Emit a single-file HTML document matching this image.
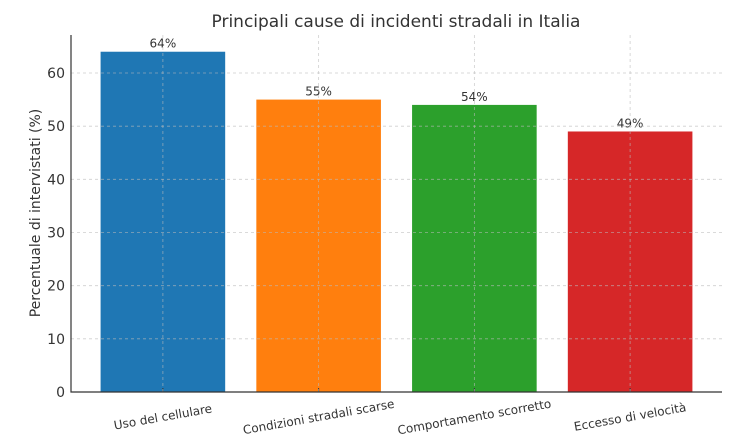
<!DOCTYPE html>
<html><head><meta charset="utf-8"><style>
body{margin:0;background:#fff;}
svg{display:block;font-family:"DejaVu Sans","Liberation Sans",sans-serif;}
</style></head><body>
<svg id="chart" width="746" height="448"></svg>
<script>
const categories=["Uso del cellulare","Condizioni stradali scarse","Comportamento scorretto","Eccesso di velocità"];
const values=[64,55,54,49];
const valueLabels=["64%","55%","54%","49%"];
const colors=["#1f77b4","#ff7f0e","#2ca02c","#d62728"];
const yTicks=[0,10,20,30,40,50,60];
const NS="http://www.w3.org/2000/svg";
const svg=document.getElementById('chart');
const L=71,R=722,B=392,pxPerUnit=(392-73)/60;
const xMin=-0.59,xMax=3.59;
const x=v=>L+(v-xMin)/(xMax-xMin)*(R-L);
const y=v=>B-v*pxPerUnit;
const bw=0.8*(R-L)/(xMax-xMin);
function mk(t,a){const e=document.createElementNS(NS,t);for(const k in a)e.setAttribute(k,a[k]);svg.appendChild(e);return e;}
// title
let t=mk('text',{x:396,y:27,'text-anchor':'middle','font-size':17,fill:'#333'});t.textContent="Principali cause di incidenti stradali in Italia";

t=mk('text',{x:40,y:213,'text-anchor':'middle','font-size':14,fill:'#333',transform:'rotate(-90 40 213)'});t.textContent="Percentuale di intervistati (%)";

// bars
values.forEach((v,i)=>{
 const r=mk('rect',{x:x(i)-bw/2,y:y(v),width:bw,height:B-y(v),fill:colors[i]});
 
 
 const lb=mk('text',{x:x(i),y:y(v)-4,'text-anchor':'middle','font-size':12,fill:'#333'});lb.textContent=valueLabels[i];
 
 
 const cx=x(i),cy=421;
 const cl=mk('text',{x:cx,y:cy,'text-anchor':'middle','font-size':12,fill:'#333',transform:`rotate(-10 ${cx} ${cy-4})`});cl.textContent=categories[i];
 
 
 const tk=mk('line',{x1:cx,x2:cx,y1:B,y2:B-4,stroke:'#333','stroke-width':1});
 
 
});
// grid
yTicks.forEach(v=>{
 const g=mk('line',{x1:L,x2:R,y1:y(v),y2:y(v),stroke:'#bbb','stroke-width':0.8,'stroke-dasharray':'3,3',opacity:0.7});
 
 
 const lb=mk('text',{x:L-6,y:y(v)+5,'text-anchor':'end','font-size':14,fill:'#333'});lb.textContent=v;
 
 
});
categories.forEach((c,i)=>{
 const g=mk('line',{x1:x(i),x2:x(i),y1:35,y2:B,stroke:'#bbb','stroke-width':0.8,'stroke-dasharray':'3,3',opacity:0.7});
 
 
});
const ax=mk('path',{d:`M${L},35V${B}H${R}`,fill:'none',stroke:'#333','stroke-width':1.2});


</script>
</body></html>
